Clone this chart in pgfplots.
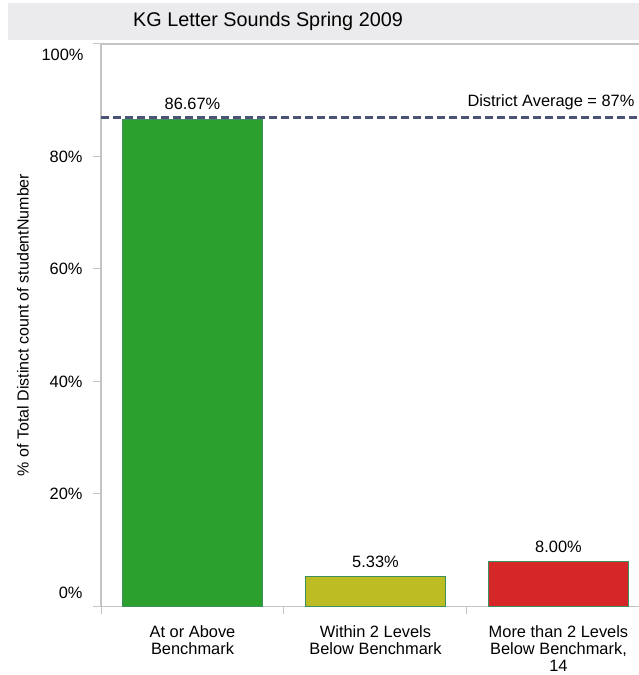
\documentclass[border=0pt]{standalone}
\usepackage{fontspec}
\setmainfont{Liberation Sans}
\usepackage{pgfplots}
\pgfplotsset{compat=1.18}

\definecolor{barGreen}{HTML}{2CA02C}
\definecolor{barOlive}{HTML}{BCBD22}
\definecolor{barRed}{HTML}{D62728}
\definecolor{barEdge}{HTML}{3E8E5E}
\definecolor{avgLine}{HTML}{4B5474}
\definecolor{axisGray}{HTML}{C4C4C4}
\definecolor{titleBand}{HTML}{EBEBEE}

\newcommand{\lblfont}{\fontsize{16.4}{17.2}\selectfont}

\begin{document}
\begin{tikzpicture}[x=1pt,y=1pt]
\useasboundingbox (0,0) rectangle (639,675);
% title band
\fill[titleBand] (8,635) rectangle (639,672);
\node[font=\fontsize{19.8}{24}\selectfont] at (268,654) {KG Letter Sounds Spring 2009};
% y axis title
\node[rotate=90, font=\fontsize{16}{19}\selectfont] at (23,350) {\% of Total Distinct count of studentNumber};

\begin{axis}[
  at={(101pt,68.5pt)}, anchor=south west,
  scale only axis, width=538pt, height=562.5pt,
  xmin=0, xmax=2.94, ymin=0, ymax=100,
  axis x line*=bottom, axis y line*=left,
  axis line style={axisGray, line width=1.1pt},
  xtick={0,1,2}, xticklabels={},
  ytick={0,20,40,60,80,100}, yticklabels={},
  tick align=outside, major tick length=8pt,
  tick style={axisGray, line width=1pt},
  ybar, bar width=140pt, bar shift=0pt,
  clip=false,
  nodes near coords={\pgfmathprintnumber[fixed,fixed zerofill,precision=2,assume math mode=true]{\pgfplotspointmeta}\%},
  every node near coord/.append style={font=\lblfont, anchor=center, yshift=15pt, text=black},
]
% top frame line
\draw[axisGray, line width=1.1pt] (rel axis cs:0,1) -- (rel axis cs:1,1);

\addplot[fill=barGreen, draw=barEdge, line width=0.9pt] coordinates {(0.5,86.67)};
\addplot[fill=barOlive, draw=barEdge, line width=0.9pt] coordinates {(1.5,5.33)};
\addplot[fill=barRed, draw=barEdge, line width=0.9pt] coordinates {(2.5,8.00)};

% district average reference line
\addplot[sharp plot, nodes near coords={}, avgLine, line width=2.8pt, dash pattern=on 8pt off 4pt, forget plot]
  coordinates {(0,87) (2.94,87)};
\node[font=\lblfont, anchor=east] at (axis cs:2.94,87) [yshift=15pt, xshift=-1pt] {District Average = 87\%};

% y tick labels
\node[font=\lblfont, anchor=east] at (axis cs:0,100) [xshift=-14pt, yshift=-11pt] {100\%};
\node[font=\lblfont, anchor=east] at (axis cs:0,80) [xshift=-15pt] {80\%};
\node[font=\lblfont, anchor=east] at (axis cs:0,60) [xshift=-15pt] {60\%};
\node[font=\lblfont, anchor=east] at (axis cs:0,40) [xshift=-15pt] {40\%};
\node[font=\lblfont, anchor=east] at (axis cs:0,20) [xshift=-15pt] {20\%};
\node[font=\lblfont, anchor=east] at (axis cs:0,0) [xshift=-15pt, yshift=13.5pt] {0\%};

% category labels
\node[font=\lblfont, anchor=north, align=center, inner sep=0pt] at (axis cs:0.5,0) [yshift=-19pt] {At or Above\\Benchmark};
\node[font=\lblfont, anchor=north, align=center, inner sep=0pt] at (axis cs:1.5,0) [yshift=-19pt] {Within 2 Levels\\Below Benchmark};
\node[font=\lblfont, anchor=north, align=center, inner sep=0pt] at (axis cs:2.5,0) [yshift=-19pt] {More than 2 Levels\\Below Benchmark,\\14};
\end{axis}
\end{tikzpicture}
\end{document}
